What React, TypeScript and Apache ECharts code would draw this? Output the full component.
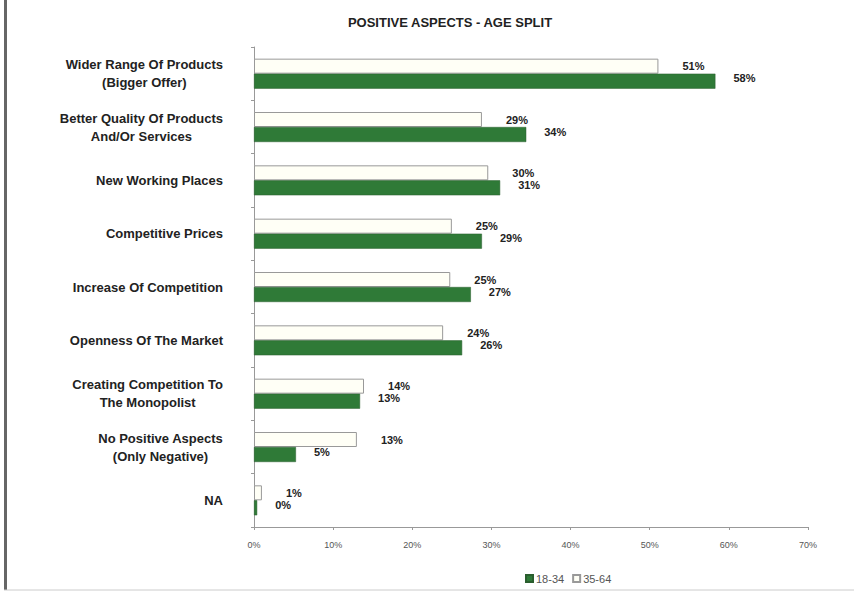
import React, { useEffect, useRef } from "react";
import * as echarts from "echarts";

const categories: string[] = [
  "Wider Range Of Products\n(Bigger Offer)",
  "Better Quality Of Products\nAnd/Or Services",
  "New Working Places",
  "Competitive Prices",
  "Increase Of Competition",
  "Openness Of The Market",
  "Creating Competition To\nThe Monopolist",
  "No Positive Aspects\n(Only Negative)",
  "NA",
];

const age18to34: number[] = [58.3, 34.4, 31.1, 28.8, 27.4, 26.3, 13.4, 5.3, 0.4];
const age35to64: number[] = [51.1, 28.8, 29.6, 25.0, 24.8, 23.9, 13.9, 13.0, 1.0];

const xTicks = { min: 0, max: 70, interval: 10 };
const titleText = "POSITIVE ASPECTS - AGE SPLIT";
const seriesNames = ["18-34", "35-64"];

const FONT = 'Arial, "Liberation Sans", sans-serif';

export default function App() {
  const ref = useRef<HTMLDivElement>(null);

  useEffect(() => {
    if (!ref.current) return;
    const chart = echarts.init(ref.current, null, { renderer: "svg" });
    const pct = (p: any) => Math.round(p.value) + "%";
    chart.setOption({
      animation: false,
      backgroundColor: "#ffffff",
      title: {
        text: titleText,
        left: 445,
        top: 11,
        textAlign: "center",
        textStyle: { fontFamily: FONT, fontSize: 13, fontWeight: "bold", color: "#222" },
      },
      legend: {
        data: seriesNames,
        left: 520,
        top: 568,
        itemWidth: 7,
        itemHeight: 7,
        itemGap: 8,
        icon: "rect",
        textStyle: { fontFamily: FONT, fontSize: 11, color: "#555", padding: [0, 0, 0, -2] },
      },
      grid: { left: 254, right: 46, top: 47, bottom: 66, containLabel: false },
      xAxis: {
        type: "value",
        min: xTicks.min,
        max: xTicks.max,
        interval: xTicks.interval,
        axisLine: { show: true, lineStyle: { color: "#999" } },
        axisTick: { show: true, length: 3, lineStyle: { color: "#999" } },
        splitLine: { show: false },
        axisLabel: {
          formatter: "{value}%",
          fontFamily: FONT,
          fontSize: 9,
          color: "#555",
          margin: 13,
        },
      },
      yAxis: {
        type: "category",
        data: categories,
        inverse: true,
        axisLine: { show: true, lineStyle: { color: "#999" } },
        axisTick: { show: true, length: 3, lineStyle: { color: "#999" } },
        axisLabel: {
          margin: 31,
          align: "right",
          formatter: (v: string) =>
            v
              .split("\n")
              .map((l) => `{c|${l}}`)
              .join("\n"),
          rich: {
            c: {
              fontFamily: FONT,
              fontSize: 13,
              fontWeight: "bold",
              color: "#222",
              lineHeight: 18,
              align: "center",
            },
          },
        },
      },
      series: [
        {
          name: seriesNames[1],
          type: "bar",
          data: age35to64,
          barWidth: 15,
          barGap: "0%",
          itemStyle: { color: "#fffff6", borderColor: "#999", borderWidth: 1 },
          label: {
            show: true,
            position: "right",
            distance: 24,
            formatter: pct,
            fontFamily: FONT,
            fontSize: 11,
            fontWeight: "bold",
            color: "#222",
          },
        },
        {
          name: seriesNames[0],
          type: "bar",
          data: age18to34,
          barWidth: 15,
          barGap: "0%",
          itemStyle: { color: "#2f7a37", borderColor: "#2a5e2e", borderWidth: 0.5 },
          label: {
            show: true,
            position: "right",
            distance: 18,
            offset: [0, -3],
            formatter: pct,
            fontFamily: FONT,
            fontSize: 11,
            fontWeight: "bold",
            color: "#222",
          },
        },
      ],
      graphic: [
        { type: "rect", shape: { x: 4, y: 0, width: 3, height: 590 }, style: { fill: "#666" } },
        { type: "line", shape: { x1: 4, y1: 590, x2: 854, y2: 590 }, style: { stroke: "#ccc", lineWidth: 1 } },
      ],
    });
    return () => chart.dispose();
  }, []);

  return (
    <div
      ref={ref}
      style={{ position: "fixed", left: 0, top: 0, width: 854, height: 593 }}
    />
  );
}
